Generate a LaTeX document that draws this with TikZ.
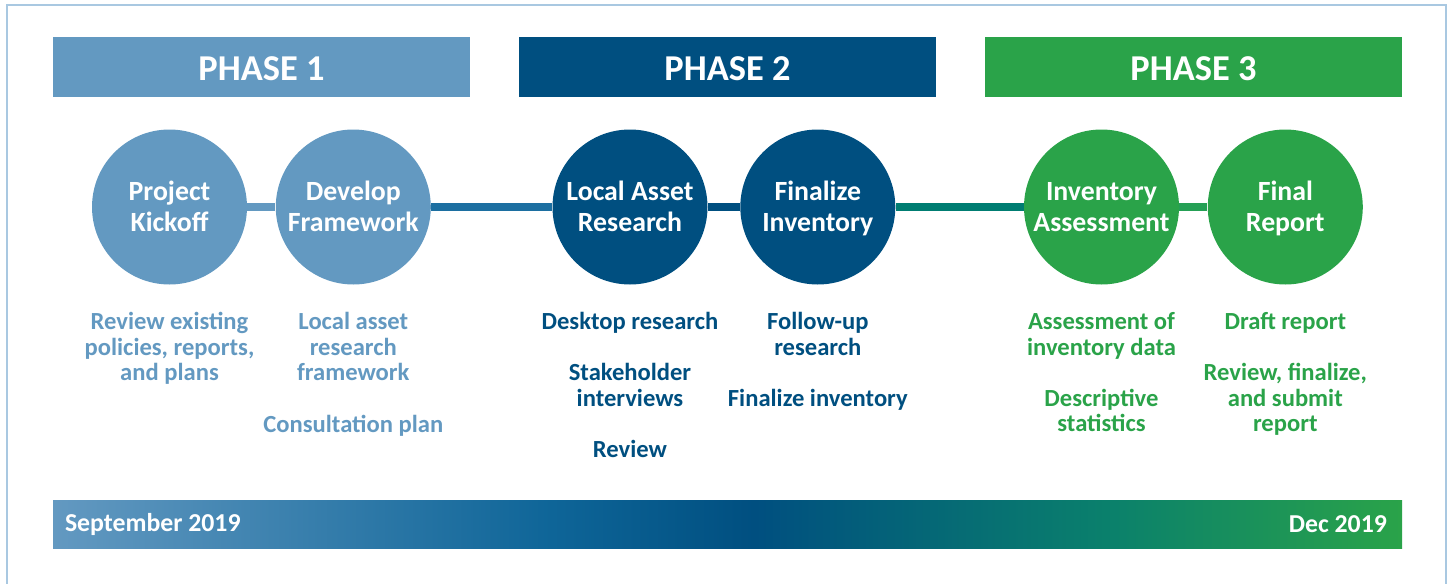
\documentclass[tikz,border=0pt]{standalone}
\usepackage{fontspec}
\setmainfont{Carlito}
\usetikzlibrary{positioning}

\definecolor{phaseone}{HTML}{6399C1}
\definecolor{phasetwo}{HTML}{004F80}
\definecolor{phasethree}{HTML}{2AA349}
\definecolor{linkblue}{HTML}{1C6FA1}
\definecolor{linkteal}{HTML}{007D72}
\definecolor{linkgreen}{HTML}{25A055}
\definecolor{barblue}{HTML}{0E6598}
\definecolor{barteal}{HTML}{0A806C}
\definecolor{framecol}{HTML}{A9C8E1}

% the path is mapped onto 25bp..75bp of the shading
\pgfdeclarehorizontalshading{timebar}{100bp}{color(0bp)=(phaseone); color(25bp)=(phaseone); color(43.5bp)=(barblue); color(51bp)=(phasetwo); color(64bp)=(barteal); color(75bp)=(phasethree); color(100bp)=(phasethree)}

\begin{document}
\begin{tikzpicture}[x=0.5pt,y=-0.5pt,
  phase/.style={fill=#1, minimum width=208.5pt, minimum height=30pt, inner sep=0pt,
    text height=13.7pt, text depth=0pt,
    text=white, font=\fontsize{18.2}{20}\selectfont\bfseries},
  stage/.style={circle, fill=#1, minimum size=77.5pt, inner sep=0pt, text=white,
    align=center, font=\fontsize{13.9}{15.5}\selectfont\bfseries,
    execute at begin node=\rule{0pt}{29.6pt}, execute at end node=\strut},
  task/.style={text=#1, align=center, anchor=north, inner sep=0pt,
    font=\fontsize{12.3}{12.8}\selectfont\bfseries, execute at begin node=\strut},
  link/.style={draw=#1, line width=4pt},
  datelabel/.style={text=white, inner sep=0pt, font=\fontsize{12.9}{14}\selectfont\bfseries}]
  \useasboundingbox (0,0) rectangle (1448,584);
  \draw[framecol, line width=1pt] (7,584) -- (7,5) -- (1446,5) -- (1446,584);

  % phase headers
  \node [phase=phaseone] (p_1) at (261.5,67) {PHASE 1};
  \node [phase=phasetwo] (p_2) at (727.5,67) {PHASE 2};
  \node [phase=phasethree] (p_3) at (1193.5,67) {PHASE 3};

  % stages
  \node [stage=phaseone] (kickoff) at (169.5,207) {Project\\Kickoff};
  \node [stage=phaseone] (framework) [right=14pt of kickoff] {Develop\\Framework};
  \node [stage=phasetwo] (research) at (630,207) {Local Asset\\Research};
  \node [stage=phasetwo] (finalize) [right=16pt of research] {Finalize\\Inventory};
  \node [stage=phasethree] (assess) at (1101.5,207) {Inventory\\Assessment};
  \node [stage=phasethree] (report) [right=14pt of assess] {Final\\Report};

  \path
    (kickoff) edge [link=phaseone] (framework)
    (framework) edge [link=linkblue] (research)
    (research) edge [link=phasetwo] (finalize)
    (finalize) edge [link=linkteal] (assess)
    (assess) edge [link=linkgreen] (report);

  % tasks
  \coordinate (row) at (0,312);
  \node [task=phaseone] (t_kickoff) at (kickoff |- row) {Review existing\\policies, reports,\\and plans};
  \node [task=phaseone] (t_framework) at (framework |- row) {Local asset\\research\\framework\\[12.8pt]Consultation plan};
  \node [task=phasetwo] (t_research) at (research |- row) {Desktop research\\[12.8pt]Stakeholder\\interviews\\[12.8pt]Review};
  \node [task=phasetwo] (t_finalize) at (finalize |- row) {Follow-up\\research\\[12.8pt]Finalize inventory};
  \node [task=phasethree] (t_assess) at (assess |- row) {Assessment of\\inventory data\\[12.8pt]Descriptive\\statistics};
  \node [task=phasethree] (t_report) at (report |- row) {Draft report\\[12.8pt]Review, finalize,\\and submit\\report};

  % timeline
  \node [shade, shading=timebar, minimum width=674.5pt, minimum height=24pt, inner sep=0pt] (bar) at (727.5,524) {};
  \node [datelabel, anchor=west] (start) [right=6pt of bar.west] {September 2019};
  \node [datelabel, anchor=east] (end) [left=7.5pt of bar.east] {Dec 2019};
\end{tikzpicture}
\end{document}
